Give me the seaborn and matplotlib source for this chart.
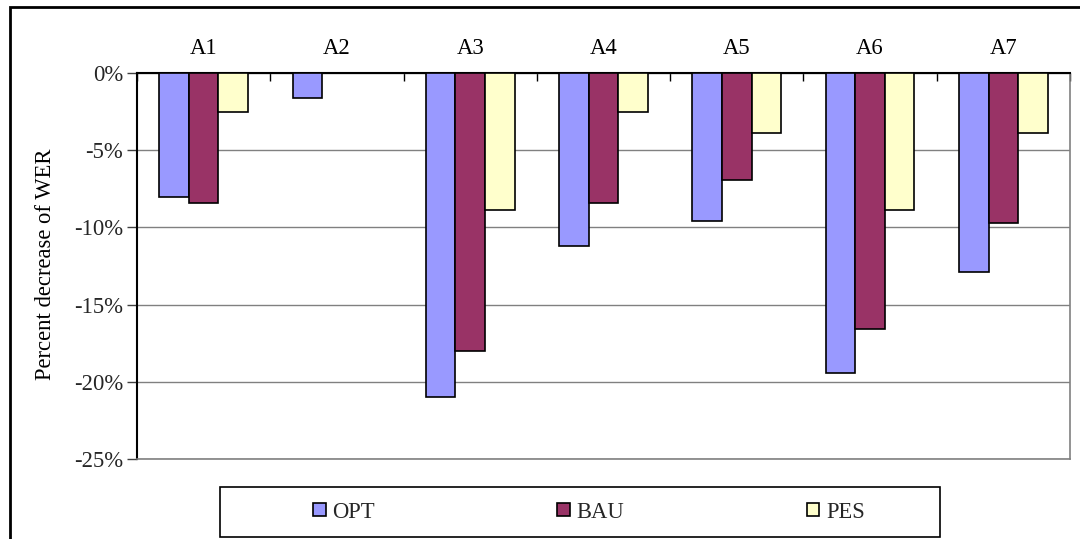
import matplotlib
matplotlib.use("Agg")
import matplotlib.pyplot as plt
from matplotlib.patches import Rectangle
from matplotlib.ticker import FuncFormatter, FixedLocator
import numpy as np
import pandas as pd
import seaborn as sns

# Percent decrease of WER per area and scenario
areas = ["A1", "A2", "A3", "A4", "A5", "A6", "A7"]
scenarios = ["OPT", "BAU", "PES"]
opt = [-8.0, -1.6, -21.0, -11.2, -9.6, -19.4, -12.9]
bau = [-8.4, 0.0, -18.0, -8.4, -6.9, -16.6, -9.7]
pes = [-2.5, 0.0, -8.9, -2.5, -3.9, -8.9, -3.9]
y_ticks = [0, -5, -10, -15, -20, -25]

colors = {"OPT": "#9999FF", "BAU": "#993366", "PES": "#FFFFCC"}

df = pd.DataFrame({
    "area": areas * 3,
    "scenario": ["OPT"] * 7 + ["BAU"] * 7 + ["PES"] * 7,
    "value": opt + bau + pes,
})

sns.set_theme(style="white")
plt.rcParams["font.family"] = ["Liberation Serif", "DejaVu Serif"]
FS = 16.3

W, H = 1080, 539
fig = plt.figure(figsize=(W / 100, H / 100), dpi=100)
ax = fig.add_axes([137 / W, 1 - 459 / H, (1070 - 137) / W, (459 - 73) / H])

sns.barplot(data=df, x="area", y="value", hue="scenario", order=areas,
            hue_order=scenarios, palette=colors, width=0.665, gap=0,
            edgecolor="black", linewidth=1.2, saturation=1, legend=False,
            ax=ax, zorder=3)

ax.set_xlim(-0.5, len(areas) - 0.5)
ax.set_ylim(-25, 0)
ax.yaxis.set_major_locator(FixedLocator(y_ticks))
ax.yaxis.set_major_formatter(FuncFormatter(lambda v, p: f"{v:.0f}%"))
ax.grid(axis="y", color="#808080", linewidth=1.0, zorder=0)
ax.set_axisbelow(True)

# category labels along the top (zero) line
ax.xaxis.tick_top()
ax.xaxis.set_label_position("top")
ax.set_xlabel("")
ax.tick_params(axis="x", which="major", length=0, pad=10, labelsize=FS,
               colors="black")
ax.set_xticks(np.arange(len(areas) + 1) - 0.5, minor=True)
ax.tick_params(axis="x", which="minor", direction="in", length=6, width=1,
               top=True, bottom=False, color="black")

ax.tick_params(axis="y", which="major", direction="out", length=7, width=1,
               left=True, labelsize=FS, color="#404040", pad=3)
ax.set_ylabel("Percent decrease of WER", fontsize=FS, color="black")
ax.yaxis.set_label_coords(-0.087, 0.505)

for side in ["left", "top"]:
    ax.spines[side].set_color("black")
    ax.spines[side].set_linewidth(1.5)
for side in ["right", "bottom"]:
    ax.spines[side].set_color("#808080")
    ax.spines[side].set_linewidth(1.2)

# legend: boxed row of entries below the plot
handles = [c.patches[0] for c in ax.containers]
leg = fig.legend(handles, scenarios, loc="center", ncol=3, frameon=False,
                 bbox_to_anchor=(589 / W, 1 - 512 / H), fontsize=FS,
                 handlelength=0.55, handleheight=0.55, handletextpad=0.3,
                 columnspacing=8.05)
fig.add_artist(Rectangle((220 / W, 1 - 537 / H), 720 / W, 50 / H,
                         transform=fig.transFigure, fill=False,
                         edgecolor="black", linewidth=1.2))

# outer chart frame
fig.add_artist(Rectangle((10 / W, -0.05), 1.2, 1 - 7 / H + 0.05,
                         transform=fig.transFigure, fill=False,
                         edgecolor="black", linewidth=2, clip_on=False))

fig.savefig("out.png", dpi=100)
